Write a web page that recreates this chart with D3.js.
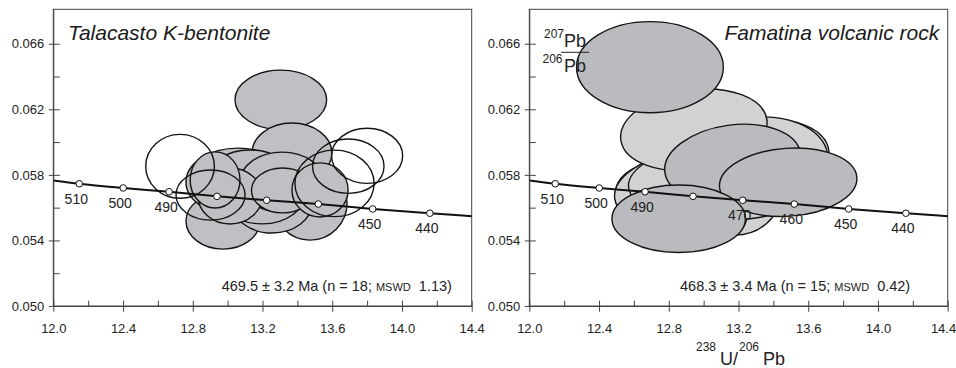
<!DOCTYPE html>
<html>
<head>
<meta charset="utf-8">
<script src="https://cdn.jsdelivr.net/npm/d3@7"></script>
<style>
body { margin: 0; background: #fff; }
svg { font-family: "Liberation Sans", Arial, sans-serif; }
</style>
</head>
<body>
<script>
// concordia age marks
var concordiaAges = [510, 500, 490, 480, 470, 460, 450, 440];
var concordiaU = [12.149, 12.401, 12.664, 12.939, 13.224, 13.520, 13.832, 14.160];
var concordiaPb = [0.05746, 0.05720, 0.05697, 0.05669, 0.05645, 0.05622, 0.05592, 0.05566];
var concordiaEndU = [12.0, 14.4];
var concordiaEndPb = [0.05766, 0.05548];

var xTicks = [12.0, 12.4, 12.8, 13.2, 13.6, 14.0, 14.4];
var xMinorTicks = [12.2, 12.6, 13.0, 13.4, 13.8, 14.2];
var yTicks = [0.050, 0.054, 0.058, 0.062, 0.066];
var yMinorTicks = [0.052, 0.056, 0.060, 0.064];

// [238U/206Pb, 207Pb/206Pb, half width, half height, tilt, kind]
var talacastoEllipses = [
	[13.305, 0.06258, 0.263, 0.00181, 0, 'g'],
	[13.369, 0.05933, 0.229, 0.00183, 0, 'g'],
	[12.973, 0.05518, 0.212, 0.00171, 0, 'g'],
	[13.473, 0.05628, 0.212, 0.00226, 0, 'g'],
	[13.255, 0.05628, 0.229, 0.00183, 0, 'g'],
	[13.059, 0.05756, 0.298, 0.00207, 0, 'g'],
	[13.197, 0.05708, 0.258, 0.00207, 0, 'g'],
	[13.128, 0.05781, 0.241, 0.00171, 0, 'g'],
	[13.312, 0.05756, 0.241, 0.00183, 0, 'g'],
	[13.014, 0.05671, 0.184, 0.00171, 0, 'g'],
	[13.315, 0.05705, 0.178, 0.00137, 0, 'g'],
	[13.530, 0.05708, 0.161, 0.00165, 0, 'g'],
	[12.928, 0.05769, 0.143, 0.00171, 0, 'g'],
	[12.727, 0.05852, 0.197, 0.00195, 0, 'o'],
	[13.800, 0.05916, 0.204, 0.00168, 0, 'o'],
	[13.692, 0.05853, 0.205, 0.00166, 0, 'o'],
	[13.613, 0.05748, 0.227, 0.00203, 0, 'o'],
	[12.902, 0.05677, 0.198, 0.00153, 0, 'o']
];

var famatinaEllipses = [
	[13.322, 0.05891, 0.400, 0.00244, -8, 'l'],
	[13.380, 0.05799, 0.344, 0.00213, 0, 'l'],
	[13.036, 0.05830, 0.344, 0.00213, 0, 'd'],
	[12.692, 0.05677, 0.200, 0.00183, 0, 'l'],
	[13.093, 0.05677, 0.316, 0.00183, 0, 'd'],
	[13.180, 0.05677, 0.258, 0.00244, 0, 'l'],
	[12.922, 0.05555, 0.327, 0.00201, 0, 'd'],
	[12.864, 0.05616, 0.361, 0.00195, 0, 'd'],
	[12.922, 0.05720, 0.436, 0.00232, -8, 'l'],
	[12.979, 0.05781, 0.413, 0.00201, -8, 'l'],
	[13.277, 0.05842, 0.442, 0.00305, -10, 'l'],
	[12.944, 0.06074, 0.423, 0.00244, -8, 'l'],
	[13.167, 0.05872, 0.393, 0.00232, -8, 'd'],
	[13.485, 0.05755, 0.395, 0.00207, -4, 'd'],
	[12.857, 0.05532, 0.383, 0.00206, 0, 'd'],
	[12.692, 0.06457, 0.421, 0.00278, 0, 'd']
];

var talacastoAgeLabels = [510, 500, 490, 450, 440];
var famatinaAgeLabels = [510, 500, 490, 470, 460, 450, 440];

var fills = { g: '#bfc0c3', o: 'none', d: '#babbbe', l: '#d1d2d4' };
var axisColor = '#444';

var svg = d3.select('body')
	.append('svg')
	.attr('width', 956)
	.attr('height', 368);

var yScale = d3.scaleLinear()
	.domain([0.050, 0.0681])
	.range([306, 9.3]);

var concordia = [[concordiaEndU[0], concordiaEndPb[0]]]
	.concat(d3.zip(concordiaU, concordiaPb))
	.concat([[concordiaEndU[1], concordiaEndPb[1]]]);

function drawPanel(left, ellipses, ageLabels, title, titleRight, ageText, nText, mswdText, noteX) {
	var x = d3.scaleLinear()
		.domain([12.0, 14.4])
		.range([left, left + 418.4]);

	var g = svg.append('g');

	//frame
	g.append('rect')
		.attr('x', x(12.0))
		.attr('y', yScale(0.0681))
		.attr('width', x(14.4) - x(12.0))
		.attr('height', yScale(0.050) - yScale(0.0681))
		.attr('fill', 'none')
		.attr('stroke', axisColor)
		.attr('stroke-width', 1);

	//error ellipses
	g.append('g').selectAll('ellipse')
		.data(ellipses)
		.enter().append('ellipse')
		.attr('cx', function (d) { return x(d[0]); })
		.attr('cy', function (d) { return yScale(d[1]); })
		.attr('rx', function (d) { return x(d[0] + d[2]) - x(d[0]); })
		.attr('ry', function (d) { return yScale(d[1]) - yScale(d[1] + d[3]); })
		.attr('transform', function (d) {
			return 'rotate(' + d[4] + ',' + x(d[0]) + ',' + yScale(d[1]) + ')';
		})
		.attr('fill', function (d) { return fills[d[5]]; })
		.attr('stroke', '#151515')
		.attr('stroke-width', 1.4);

	//age labels on concordia
	g.append('g').selectAll('text')
		.data(ageLabels)
		.enter().append('text')
		.attr('x', function (d) { return x(concordiaU[concordiaAges.indexOf(d)]) - 3; })
		.attr('y', function (d) { return yScale(concordiaPb[concordiaAges.indexOf(d)]) + 20; })
		.attr('text-anchor', 'middle')
		.attr('font-size', 14)
		.attr('fill', '#222')
		.text(function (d) { return d; });

	//concordia curve
	var line = d3.line()
		.x(function (d) { return x(d[0]); })
		.y(function (d) { return yScale(d[1]); })
		.curve(d3.curveMonotoneX);

	g.append('path')
		.datum(concordia)
		.attr('d', line)
		.attr('fill', 'none')
		.attr('stroke', '#111')
		.attr('stroke-width', 2);

	g.append('g').selectAll('circle')
		.data(d3.zip(concordiaU, concordiaPb))
		.enter().append('circle')
		.attr('cx', function (d) { return x(d[0]); })
		.attr('cy', function (d) { return yScale(d[1]); })
		.attr('r', 3.3)
		.attr('fill', '#fff')
		.attr('stroke', '#111')
		.attr('stroke-width', 1);

	//axes
	var xAxis = d3.axisBottom(x)
		.tickValues(xTicks)
		.tickSize(5.7)
		.tickSizeOuter(0)
		.tickPadding(12)
		.tickFormat(d3.format('.1f'));

	var gx = g.append('g')
		.attr('transform', 'translate(0,' + yScale(0.050) + ')')
		.call(xAxis);
	gx.selectAll('.tick line').attr('y1', -5.3);

	var gxMinor = g.append('g')
		.attr('transform', 'translate(0,' + yScale(0.050) + ')')
		.call(d3.axisBottom(x).tickValues(xMinorTicks).tickSize(-5.3).tickSizeOuter(0).tickFormat(''));
	gxMinor.select('.domain').remove();

	var yAxis = d3.axisLeft(yScale)
		.tickValues(yTicks)
		.tickSize(4.5)
		.tickSizeOuter(0)
		.tickPadding(4.5)
		.tickFormat(d3.format('.3f'));

	var gy = g.append('g')
		.attr('transform', 'translate(' + x(12.0) + ',0)')
		.call(yAxis);
	gy.selectAll('.tick line').attr('x1', 6.5);

	var gyMinor = g.append('g')
		.attr('transform', 'translate(' + x(12.0) + ',0)')
		.call(d3.axisLeft(yScale).tickValues(yMinorTicks).tickSize(-6.5).tickSizeOuter(0).tickFormat(''));
	gyMinor.select('.domain').remove();

	g.selectAll('.tick line, .domain').attr('stroke', axisColor);
	g.selectAll('.tick text')
		.attr('font-size', 13)
		.attr('font-family', '"Liberation Sans", Arial, sans-serif')
		.attr('fill', '#222');

	//title
	g.append('text')
		.attr('x', titleRight ? x(14.4) - 8.5 : x(12.0) + 14.7)
		.attr('y', 39.5)
		.attr('text-anchor', titleRight ? 'end' : 'start')
		.attr('font-size', 21)
		.attr('font-style', 'italic')
		.attr('fill', '#1a1a1a')
		.text(title);

	//age result
	var note = g.append('text')
		.attr('x', noteX)
		.attr('y', 291)
		.attr('font-size', 14.5)
		.attr('fill', '#222')
		.style('white-space', 'pre');
	note.append('tspan').text(ageText + ' Ma (n = ' + nText + '; ');
	note.append('tspan').attr('font-size', 11).text('MSWD');
	note.append('tspan').text('  ' + mswdText + ')');

	return gx;
}

drawPanel(53.3, talacastoEllipses, talacastoAgeLabels, 'Talacasto K-bentonite', false, '469.5 \u00b1 3.2', '18', '1.13', 221.7);
var gxRight = drawPanel(529.3, famatinaEllipses, famatinaAgeLabels, 'Famatina volcanic rock', true, '468.3 \u00b1 3.4', '15', '0.42', 680);

// last label sits at the window edge: keep it inside
gxRight.selectAll('.tick text')
	.filter(function (d) { return d === 14.4; })
	.attr('text-anchor', 'end')
	.attr('dx', 8);

//axis titles
var yTitle = svg.append('g').attr('fill', '#222');
yTitle.append('text').attr('x', 544).attr('y', 38).attr('font-size', 12).text('207');
yTitle.append('text').attr('x', 564).attr('y', 47).attr('font-size', 18).text('Pb');
yTitle.append('line')
	.attr('x1', 561).attr('x2', 589)
	.attr('y1', 52.3).attr('y2', 52.3)
	.attr('stroke', '#222').attr('stroke-width', 1);
yTitle.append('text').attr('x', 542.5).attr('y', 63).attr('font-size', 12).text('206');
yTitle.append('text').attr('x', 564).attr('y', 72).attr('font-size', 18).text('Pb');

var xTitle = svg.append('g').attr('fill', '#222');
xTitle.append('text').attr('x', 696).attr('y', 351).attr('font-size', 12).text('238');
xTitle.append('text').attr('x', 720).attr('y', 365).attr('font-size', 18).text('U/');
xTitle.append('text').attr('x', 739).attr('y', 351).attr('font-size', 12).text('206');
xTitle.append('text').attr('x', 763).attr('y', 365).attr('font-size', 18).text('Pb');
</script>
</body>
</html>
